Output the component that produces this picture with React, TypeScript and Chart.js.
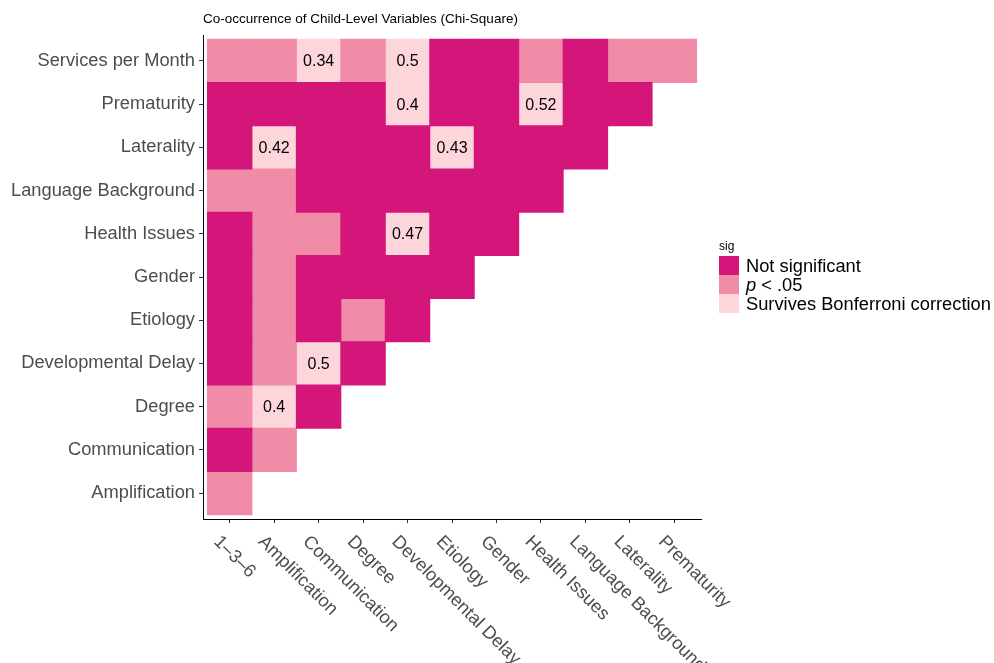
import React, { useEffect, useRef } from 'react';
import { Chart, registerables } from 'chart.js';

Chart.register(...registerables);

const FONT = "'Liberation Sans', Arial, Helvetica, sans-serif";

const chartTitle = 'Co-occurrence of Child-Level Variables (Chi-Square)';
const legendTitle = 'sig';

const columns = [
  '1–3–6', 'Amplification', 'Communication', 'Degree', 'Developmental Delay', 'Etiology',
  'Gender', 'Health Issues', 'Language Background', 'Laterality', 'Prematurity',
];

// bottom to top
const rows = [
  'Amplification', 'Communication', 'Degree', 'Developmental Delay', 'Etiology', 'Gender',
  'Health Issues', 'Language Background', 'Laterality', 'Prematurity', 'Services per Month',
];

const sigLevels = ['Not significant', 'p < .05', 'Survives Bonferroni correction'];
const sigColors = ['#D41579', '#F08BA8', '#FCD6DB'];

// 0 = not significant, 1 = p < .05, 2 = survives Bonferroni (per row, columns from 1–3–6 on)
const sigAmplification = [1];
const sigCommunication = [0, 1];
const sigDegree = [1, 2, 0];
const sigDevelopmentalDelay = [0, 1, 2, 0];
const sigEtiology = [0, 1, 0, 1, 0];
const sigGender = [0, 1, 0, 0, 0, 0];
const sigHealthIssues = [0, 1, 1, 0, 2, 0, 0];
const sigLanguageBackground = [1, 1, 0, 0, 0, 0, 0, 0];
const sigLaterality = [0, 2, 0, 0, 0, 2, 0, 0, 0];
const sigPrematurity = [0, 0, 0, 0, 2, 0, 0, 2, 0, 0];
const sigServicesPerMonth = [1, 1, 2, 1, 2, 0, 0, 1, 0, 1, 1];

const sigMatrix = [
  sigAmplification, sigCommunication, sigDegree, sigDevelopmentalDelay, sigEtiology, sigGender,
  sigHealthIssues, sigLanguageBackground, sigLaterality, sigPrematurity, sigServicesPerMonth,
];

// values shown on cells surviving Bonferroni
const valAmplification = [null];
const valCommunication = [null, null];
const valDegree = [null, 0.4, null];
const valDevelopmentalDelay = [null, null, 0.5, null];
const valEtiology = [null, null, null, null, null];
const valGender = [null, null, null, null, null, null];
const valHealthIssues = [null, null, null, null, 0.47, null, null];
const valLanguageBackground = [null, null, null, null, null, null, null, null];
const valLaterality = [null, 0.42, null, null, null, 0.43, null, null, null];
const valPrematurity = [null, null, null, null, 0.4, null, null, 0.52, null, null];
const valServicesPerMonth = [null, null, 0.34, null, 0.5, null, null, null, null, null, null];

const valMatrix = [
  valAmplification, valCommunication, valDegree, valDevelopmentalDelay, valEtiology, valGender,
  valHealthIssues, valLanguageBackground, valLaterality, valPrematurity, valServicesPerMonth,
];

const cellLabelPlugin = {
  id: 'cellLabels',
  afterDatasetsDraw(chart: any) {
    const { ctx, scales } = chart;
    ctx.save();
    ctx.font = `16px ${FONT}`;
    ctx.fillStyle = '#000000';
    ctx.textAlign = 'center';
    ctx.textBaseline = 'middle';
    valMatrix.forEach((row, i) => {
      row.forEach((v, j) => {
        if (v === null || v === undefined) return;
        ctx.fillText(String(v), scales.x.getPixelForValue(j), scales.y.getPixelForValue(i) + 1);
      });
    });
    ctx.restore();
  },
};

const decorPlugin = {
  id: 'decor',
  afterDraw(chart: any) {
    const { ctx, scales, chartArea } = chart;
    ctx.save();
    // title
    ctx.font = `13.5px ${FONT}`;
    ctx.fillStyle = '#000000';
    ctx.textAlign = 'left';
    ctx.textBaseline = 'alphabetic';
    ctx.fillText(chartTitle, chartArea.left, 23);

    // rotated x labels
    ctx.font = `18.3px ${FONT}`;
    ctx.fillStyle = '#4D4D4D';
    ctx.textBaseline = 'middle';
    columns.forEach((c, j) => {
      const px = scales.x.getPixelForValue(j);
      ctx.save();
      ctx.translate(px - 13, chartArea.bottom + 20);
      ctx.rotate(Math.PI / 4);
      ctx.fillText(c, 0, 0);
      ctx.restore();
    });

    // legend
    const lx = 719;
    ctx.font = `12px ${FONT}`;
    ctx.fillStyle = '#000000';
    ctx.textBaseline = 'middle';
    ctx.fillText(legendTitle, lx, 247);
    const boxH = 19;
    const top = 256;
    sigLevels.forEach((lab, k) => {
      const y = top + k * boxH;
      ctx.fillStyle = sigColors[k];
      ctx.fillRect(lx, y, 20, boxH);
      ctx.fillStyle = '#000000';
      const cy = y + boxH / 2 + 1;
      if (lab.startsWith('p ')) {
        ctx.font = `italic 18.3px ${FONT}`;
        ctx.fillText('p', 746, cy);
        const w = ctx.measureText('p').width;
        ctx.font = `18.3px ${FONT}`;
        ctx.fillText(lab.slice(1), 746 + w, cy);
      } else {
        ctx.font = `18.3px ${FONT}`;
        ctx.fillText(lab, 746, cy);
      }
    });
    ctx.restore();
  },
};

export default function App() {
  const canvasRef = useRef<HTMLCanvasElement | null>(null);

  useEffect(() => {
    if (!canvasRef.current) return;
    const datasets = sigLevels.map((lab, k) => {
      const data: any[] = [];
      sigMatrix.forEach((row, i) => {
        row.forEach((code, j) => {
          if (code === k) data.push({ x: j, y: [i - 0.5, i + 0.5] });
        });
      });
      return {
        label: lab,
        data,
        backgroundColor: sigColors[k],
        borderWidth: 0,
        inflateAmount: 0.5,
        grouped: false,
        barPercentage: 1,
        categoryPercentage: 1,
      };
    });

    const chart = new Chart(canvasRef.current, {
      type: 'bar',
      data: { datasets } as any,
      options: {
        animation: false,
        responsive: false,
        devicePixelRatio: 1,
        layout: { padding: { top: 35, right: 293, bottom: 0, left: 0 } },
        plugins: {
          legend: { display: false },
          tooltip: { enabled: false },
          title: { display: false },
        },
        scales: {
          x: {
            type: 'linear',
            min: -0.6,
            max: 10.6,
            offset: false,
            afterBuildTicks: (axis: any) => {
              axis.ticks = columns.map((_, j) => ({ value: j }));
            },
            afterFit: (axis: any) => {
              axis.height = 144;
            },
            ticks: { display: false },
            grid: {
              display: true,
              offset: false,
              drawOnChartArea: false,
              drawTicks: true,
              tickLength: 4,
              tickColor: '#333333',
              tickWidth: 1,
            },
            border: { display: true, color: '#000000', width: 1 },
          },
          y: {
            type: 'linear',
            min: -0.6,
            max: 10.6,
            afterBuildTicks: (axis: any) => {
              axis.ticks = rows.map((_, i) => ({ value: i }));
            },
            afterFit: (axis: any) => {
              axis.width = 203;
            },
            ticks: {
              autoSkip: false,
              padding: 4,
              color: '#4D4D4D',
              font: { family: FONT, size: 18.3 },
              callback: (v: any) => rows[Math.round(Number(v))] ?? '',
            },
            grid: {
              display: true,
              drawOnChartArea: false,
              drawTicks: true,
              tickLength: 4,
              tickColor: '#333333',
              tickWidth: 1,
            },
            border: { display: true, color: '#000000', width: 1 },
          },
        } as any,
      },
      plugins: [cellLabelPlugin, decorPlugin],
    });
    return () => chart.destroy();
  }, []);

  return (
    <div style={{ position: 'absolute', left: 0, top: 0, width: 994, height: 663, background: '#ffffff' }}>
      <canvas ref={canvasRef} width={994} height={663} style={{ display: 'block' }} />
    </div>
  );
}
